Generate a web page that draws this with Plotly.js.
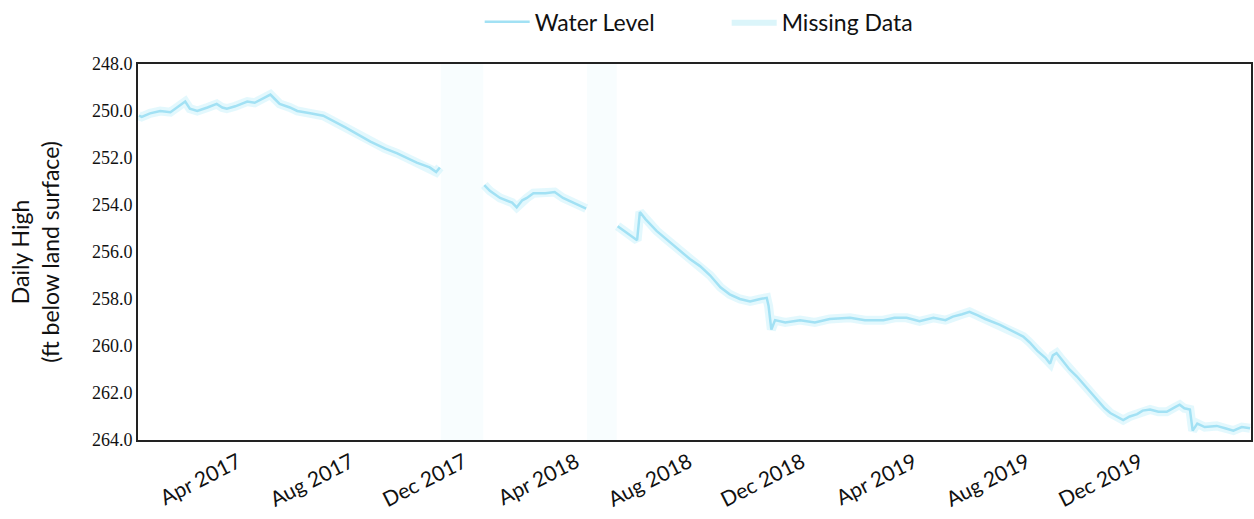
<!DOCTYPE html>
<html>
<head>
<meta charset="utf-8">
<script src="https://cdn.plot.ly/plotly-3.0.1.min.js"></script>
<style>
  html, body { margin: 0; padding: 0; background: #fff; }
  #chart { width: 1254px; height: 519px; }
</style>
</head>
<body>
<div id="chart"></div>
<script>
// Daily high water level (ft below land surface); null marks a data gap
const dates = [
  '2016-12-15','2016-12-18','2016-12-27','2017-01-07','2017-01-18','2017-02-03','2017-02-08','2017-02-16',
  '2017-02-27','2017-03-09','2017-03-15','2017-03-20','2017-03-29','2017-04-11','2017-04-19','2017-04-27',
  '2017-05-06','2017-05-11','2017-05-16','2017-05-27','2017-06-04','2017-06-18','2017-07-02','2017-07-26',
  '2017-08-22','2017-09-07','2017-09-20','2017-10-11','2017-10-25','2017-11-01','2017-11-05',
  '2017-11-20',
  '2017-12-23','2017-12-29','2018-01-09','2018-01-16','2018-01-22','2018-01-27','2018-02-02','2018-02-07',
  '2018-02-14','2018-02-27','2018-03-09','2018-03-18','2018-03-26','2018-04-03','2018-04-12',
  '2018-04-28',
  '2018-05-16','2018-05-27','2018-06-06','2018-06-09','2018-06-15','2018-06-27','2018-07-09','2018-07-22',
  '2018-08-02','2018-08-13','2018-08-24','2018-09-04','2018-09-14','2018-09-25','2018-10-06','2018-10-17',
  '2018-10-24','2018-10-26','2018-10-29','2018-11-02','2018-11-13','2018-11-29','2018-12-15','2018-12-31',
  '2019-01-22','2019-02-07','2019-02-27','2019-03-11','2019-03-24','2019-04-07','2019-04-22','2019-05-05',
  '2019-05-13','2019-05-23','2019-05-31','2019-06-09','2019-06-17','2019-07-03','2019-07-16','2019-07-28',
  '2019-08-04','2019-08-12','2019-08-21','2019-08-26','2019-08-29','2019-09-02','2019-09-08','2019-09-16',
  '2019-09-24','2019-10-05','2019-10-16','2019-10-24','2019-10-30','2019-11-06','2019-11-13','2019-11-20',
  '2019-11-28','2019-12-04','2019-12-12','2019-12-21','2019-12-30','2020-01-08','2020-01-13','2020-01-18',
  '2020-01-24','2020-01-27','2020-02-01','2020-02-09','2020-02-22','2020-03-02','2020-03-11','2020-03-20',
  '2020-03-29'
];
const waterLevel = [
  250.2,250.25,250.1,250.0,250.05,249.6,249.9,250.0,
  249.85,249.7,249.85,249.9,249.8,249.6,249.65,249.5,
  249.3,249.5,249.7,249.85,250.0,250.1,250.2,250.7,
  251.3,251.6,251.8,252.2,252.4,252.6,252.4,
  null,
  253.15,253.4,253.7,253.8,253.9,254.1,253.8,253.7,
  253.5,253.5,253.45,253.7,253.85,254.0,254.15,
  null,
  254.9,255.2,255.5,254.3,254.6,255.1,255.5,255.9,
  256.3,256.6,257.0,257.5,257.8,258.0,258.1,258.0,
  257.95,258.3,259.3,258.9,259.0,258.9,259.0,258.85,
  258.8,258.9,258.9,258.8,258.8,258.95,258.8,258.9,
  258.75,258.65,258.55,258.7,258.85,259.1,259.35,259.6,
  259.85,260.2,260.5,260.75,260.4,260.3,260.6,261.0,
  261.3,261.8,262.3,262.65,262.85,263.0,263.15,263.0,
  262.9,262.75,262.7,262.8,262.8,262.6,262.5,262.65,
  262.7,263.6,263.3,263.45,263.4,263.5,263.6,263.45,
  263.5
];
// Missing-data periods
const gapStart = ['2017-11-06', '2018-04-13'];
const gapEnd   = ['2017-12-22', '2018-05-15'];
// Axis settings
const yMin = 248, yMax = 264;
const xStart = '2016-12-14', xEnd = '2020-03-30';
const tickDates = ['2017-04-01','2017-08-01','2017-12-01','2018-04-01','2018-08-01',
                   '2018-12-01','2019-04-01','2019-08-01','2019-12-01'];
const tickLabels = ['Apr 2017','Aug 2017','Dec 2017','Apr 2018','Aug 2018',
                    'Dec 2018','Apr 2019','Aug 2019','Dec 2019'];

// Build missing-data polygons
const gx = [], gy = [];
gapStart.forEach((s, i) => {
  const e = gapEnd[i];
  gx.push(s, e, e, s, s, null);
  gy.push(yMin, yMin, yMax, yMax, yMin, null);
});

const traces = [
  {
    x: gx, y: gy, type: 'scatter', mode: 'lines', name: 'Missing Data bands',
    fill: 'toself', fillcolor: 'rgba(195,238,246,0.12)', showlegend: false,
    legendgroup: 'missing',
    line: { width: 0, color: 'rgba(0,0,0,0)' }, hoverinfo: 'skip'
  },
  {
    x: [null], y: [null], type: 'scatter', mode: 'lines', name: 'Missing Data',
    fill: 'toself', fillcolor: 'rgba(190,236,245,0.55)', legendgroup: 'missing', legendrank: 2,
    line: { width: 0, color: 'rgba(0,0,0,0)' }, hoverinfo: 'skip'
  },
  {
    x: dates, y: waterLevel, type: 'scatter', mode: 'lines', name: 'Water Level glow',
    connectgaps: false, showlegend: false,
    line: { color: 'rgba(185,237,249,0.4)', width: 9 }
  },
  {
    x: dates, y: waterLevel, type: 'scatter', mode: 'lines', name: 'Water Level',
    connectgaps: false, legendrank: 1,
    line: { color: '#a2e1f4', width: 2.5 }
  }
];

const layout = {
  width: 1254, height: 519,
  margin: { l: 138, r: 3, t: 64, b: 79, autoexpand: false },
  paper_bgcolor: '#fff', plot_bgcolor: '#fff',
  font: { family: 'Lato, "Open Sans", sans-serif', color: '#111' },
  showlegend: true,
  legend: {
    orientation: 'h', x: 0.307, xanchor: 'left',
    yref: 'container', y: 0.958, yanchor: 'middle',
    font: { size: 23, color: '#111' }, itemwidth: 45,
    entrywidth: 187, entrywidthmode: 'pixels', traceorder: 'normal'
  },
  xaxis: {
    type: 'date', range: [xStart, xEnd],
    tickmode: 'array', tickvals: tickDates, ticktext: tickLabels,
    tickangle: -27, tickfont: { size: 21, color: '#111' },
    showgrid: false, zeroline: false,
    showline: true, linecolor: '#222', linewidth: 2, mirror: true,
    ticks: '', ticklen: 0
  },
  yaxis: {
    range: [yMax, yMin], dtick: 2, tick0: 248, tickformat: '.1f',
    tickfont: { size: 18, family: '"Liberation Serif", serif', color: '#111' },
    showgrid: false, zeroline: false,
    showline: true, linecolor: '#222', linewidth: 2, mirror: true,
    ticks: '',
    title: { text: 'Daily High<br>(ft below land surface)', font: { size: 23, color: '#111' }, standoff: 26 }
  }
};

Plotly.newPlot('chart', traces, layout, { displayModeBar: false, staticPlot: true });
</script>
</body>
</html>
